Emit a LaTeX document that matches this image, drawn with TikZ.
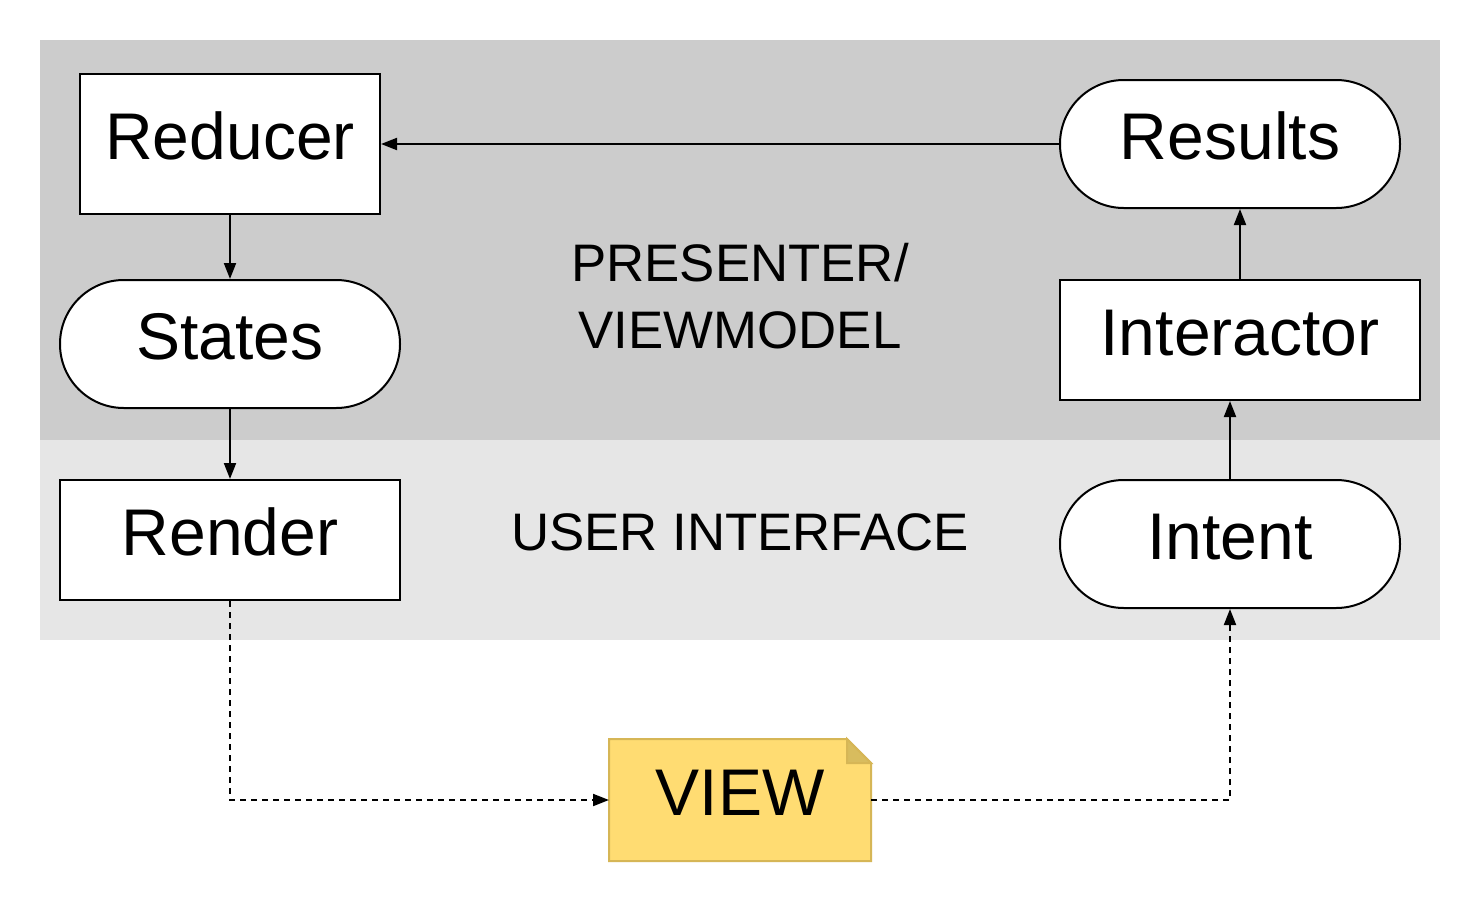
\documentclass[tikz,border=0pt]{standalone}
\usepackage{fontspec}
\setmainfont{Liberation Sans}
\usepackage{tikz}
\usetikzlibrary{calc}
\usetikzlibrary{arrows.meta}
\usetikzlibrary{backgrounds}
\pgfdeclarelayer{foreground}
\pgfdeclarelayer{background}
\pgfsetlayers{background,main,foreground}
\definecolor{bgdark}{HTML}{CCCCCC}
\definecolor{bglight}{HTML}{E6E6E6}
\definecolor{notefill}{HTML}{FFDC72}
\definecolor{notefold}{HTML}{D8BC5E}
\definecolor{noteline}{HTML}{D6B656}

\begin{document}
\begin{tikzpicture}[x=0.5pt, y=-0.5pt,
  block/.style={draw, line width=1pt, fill=white, rectangle, inner sep=0pt,
    font=\fontsize{33}{39}\selectfont, text height=24.8pt, text depth=9.8pt},
  pill/.style={block, rounded corners=31.9pt, minimum width=170pt, minimum height=64pt},
  flow/.style={line width=1pt, -{Triangle[length=8pt,width=6pt]}},
  flowdash/.style={flow, dash pattern=on 3pt off 2.5pt},
  layer/.style={font=\fontsize{26.4}{33.5}\selectfont, align=center}]
  \useasboundingbox (0,0) rectangle (1480,900);

  \node[block, minimum width=150pt, minimum height=70pt] (reducer) at (230,144) {Reducer};
  \node[pill] (results) at (1230,144) {Results};
  \node[pill] (states) at (230,344) {States};
  \node[block, minimum width=180pt, minimum height=60pt] (interactor) at (1240,340) {Interactor};
  \node[block, minimum width=170pt, minimum height=60pt] (render) at (230,540) {Render};
  \node[pill] (intent) at (1230,544) {Intent};
  \node[block, draw=none, fill=none, minimum width=130pt, minimum height=60pt] (view) at (740,800) {VIEW};
  \node[layer] (presenter) at (740,296) {PRESENTER/\\VIEWMODEL};
  \node[layer] (ui) at (740,532) {USER INTERFACE};

  \draw[flow] (results) -- (reducer);
  \draw[flow] (reducer) -- (states);
  \draw[flow] (states) -- (render);
  \draw[flow] (intent.north) -- (intent.north |- interactor.south);
  \draw[flow] (interactor.north) -- (interactor.north |- results.south);
  \draw[flowdash] (render.south) |- (view.west);
  \draw[flowdash] (view.east) -| (intent.south);

  \begin{pgfonlayer}{background}
    \fill[white] (0,0) rectangle (1480,900);
    \fill[bgdark] (40,40) rectangle (1440,440);
    \fill[bglight] (40,440) rectangle (1440,640);
    \filldraw[fill=notefill, draw=noteline, line width=1pt] (view.south west) -- (view.north west)
      -- ([xshift=-12pt]view.north east) -- ([yshift=-12pt]view.north east) -- (view.south east) -- cycle;
    \filldraw[fill=notefold, draw=noteline, line width=1pt] ([xshift=-12pt]view.north east)
      -- ([xshift=-12pt, yshift=-12pt]view.north east) -- ([yshift=-12pt]view.north east) -- cycle;
  \end{pgfonlayer}
\end{tikzpicture}
\end{document}
